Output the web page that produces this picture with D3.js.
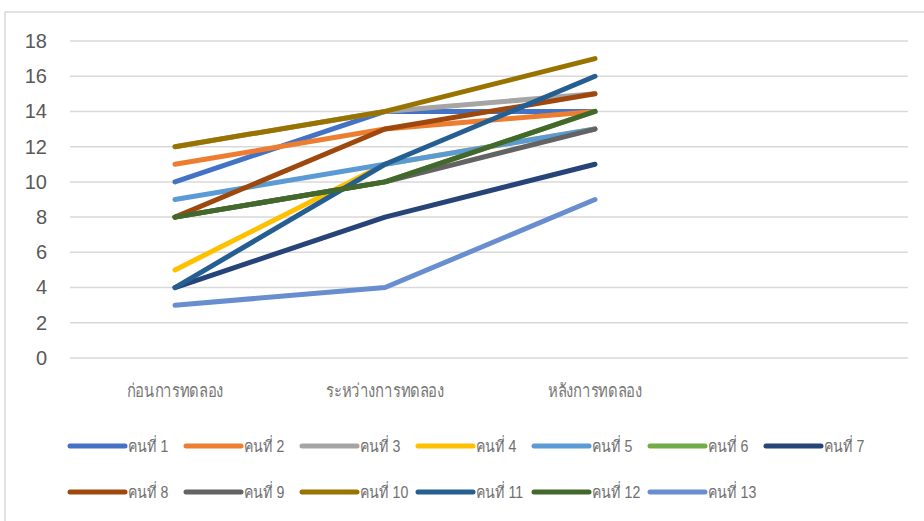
<!DOCTYPE html>
<html>
<head>
<meta charset="utf-8">
<script src="https://cdn.jsdelivr.net/npm/d3@7"></script>
<style>
  html, body { margin: 0; padding: 0; background: #fff; }
  svg { display: block; }
  text { font-family: "Liberation Sans", "Noto Sans", sans-serif; fill: #595959; }
</style>
</head>
<body>
<svg id="chart" width="924" height="521"></svg>
<script>
// Test phases
const categories = ["ก่อนการทดลอง", "ระหว่างการทดลอง", "หลังการทดลอง"];

// One score series per person
const seriesNames = ["คนที่ 1", "คนที่ 2", "คนที่ 3", "คนที่ 4", "คนที่ 5", "คนที่ 6", "คนที่ 7",
                     "คนที่ 8", "คนที่ 9", "คนที่ 10", "คนที่ 11", "คนที่ 12", "คนที่ 13"];
const person1  = [10, 14, 14];
const person2  = [11, 13, 14];
const person3  = [12, 14, 15];
const person4  = [5, 11, 13];
const person5  = [9, 11, 13];
const person6  = [8, 10, 14];
const person7  = [4, 8, 11];
const person8  = [8, 13, 15];
const person9  = [8, 10, 13];
const person10 = [12, 14, 17];
const person11 = [4, 11, 16];
const person12 = [8, 10, 14];
const person13 = [3, 4, 9];

const yTicks = [0, 2, 4, 6, 8, 10, 12, 14, 16, 18];

const colors = ["#4472C4", "#ED7D31", "#A5A5A5", "#FFC000", "#5B9BD5", "#70AD47", "#264478",
                "#9E480E", "#636363", "#997300", "#255E91", "#43682B", "#698ED0"];

const values = [person1, person2, person3, person4, person5, person6, person7,
                person8, person9, person10, person11, person12, person13];
const series = seriesNames.map((name, i) => ({ name, color: colors[i], values: values[i] }));

const svg = d3.select("#chart");

// Chart frame (left and top edges)
svg.append("path")
  .attr("d", "M5,521V12H924")
  .attr("fill", "none")
  .attr("stroke", "#d9d9d9")
  .attr("stroke-width", 1.5);

// The category axis keeps one extra empty slot on the right
const x = d3.scalePoint()
  .domain(categories.concat([" "]))
  .range([70, 910])
  .padding(0.5);

const y = d3.scaleLinear().domain([0, 18]).range([358, 41]);

// Gridlines
svg.append("g")
  .selectAll("line")
  .data(yTicks)
  .join("line")
  .attr("x1", 70)
  .attr("x2", 908)
  .attr("y1", d => y(d))
  .attr("y2", d => y(d))
  .attr("stroke", "#d9d9d9")
  .attr("stroke-width", 1.5);

// Value axis labels
const yAxis = svg.append("g")
  .attr("transform", "translate(47,0)")
  .call(d3.axisLeft(y).tickValues(yTicks).tickSize(0).tickPadding(0));
yAxis.select(".domain").remove();
yAxis.selectAll("text")
  .attr("font-size", 20)
  .attr("font-family", "Liberation Sans, sans-serif")
  .attr("fill", "#595959");

// Category axis labels (narrow, light Thai lettering)
svg.append("g")
  .selectAll("text")
  .data(categories)
  .join("text")
  .attr("transform", d => `translate(${x(d)},397) scale(0.78,1)`)
  .attr("text-anchor", "middle")
  .attr("font-size", 19)
  .attr("font-weight", 300)
  .attr("font-family", "Noto Sans, sans-serif")
  .style("fill", "#777")
  .text(d => d);

// Series lines
const line = d3.line()
  .x((d, i) => x(categories[i]))
  .y(d => y(d));

svg.append("g")
  .selectAll("path")
  .data(series)
  .join("path")
  .attr("d", d => line(d.values))
  .attr("fill", "none")
  .attr("stroke", d => d.color)
  .attr("stroke-width", 5)
  .attr("stroke-linecap", "round")
  .attr("stroke-linejoin", "round");

// Legend: two rows of seven
const legend = svg.append("g")
  .selectAll("g")
  .data(series)
  .join("g")
  .attr("transform", (d, i) => `translate(${70 + (i % 7) * 116},${i < 7 ? 446 : 492})`);

legend.append("line")
  .attr("x1", 0)
  .attr("x2", 55)
  .attr("stroke", d => d.color)
  .attr("stroke-width", 5)
  .attr("stroke-linecap", "round");

legend.append("text")
  .attr("transform", "translate(58,6) scale(0.86,1)")
  .attr("font-size", 16.5)
  .attr("font-weight", 300)
  .attr("font-family", "Noto Sans, sans-serif")
  .style("fill", "#707070")
  .text(d => d.name);
</script>
</body>
</html>
